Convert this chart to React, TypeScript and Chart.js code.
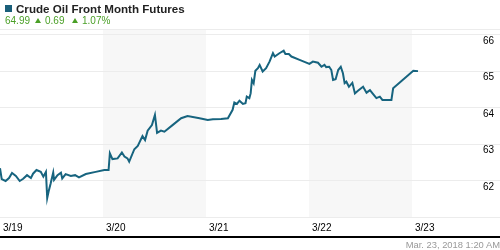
import React, { useEffect, useRef } from "react";
import { Chart, registerables } from "chart.js";

Chart.register(...registerables);

// Hours since 3/19 00:00
const HOURS = [
  0.0, 0.4, 1.3, 2.1, 2.8, 3.7, 4.6, 5.4, 6.3, 7.2, 7.7, 8.5, 9.5, 10.1, 10.7, 11.0, 11.4, 11.8,
  12.4, 12.6, 13.4, 14.2, 14.5, 15.3, 16.5, 17.5, 18.4, 20.0, 22.3, 24.3, 25.3, 25.6, 26.2, 27.4,
  28.4, 29.0, 29.7, 30.1, 31.3, 32.1, 33.2, 33.8, 34.4, 35.4, 36.1, 36.6, 37.5, 38.3, 40.2, 42.2,
  43.7, 46.5, 48.4, 49.6, 51.5, 53.1, 54.2, 54.6, 55.2, 55.8, 56.6, 57.2, 57.5, 58.1, 58.4, 58.7,
  59.1, 59.5, 60.1, 60.5, 61.2, 62.0, 62.8, 63.6, 64.0, 65.1, 66.1, 66.5, 67.3, 67.9, 69.8, 72.1,
  72.9, 74.1, 74.9, 75.6, 76.0, 76.7, 77.2, 77.6, 78.2, 78.8, 79.4, 79.9, 80.3, 80.7, 81.3, 82.1,
  82.7, 83.4, 84.6, 85.4, 86.2, 86.8, 87.7, 88.5, 89.1, 91.2, 91.6, 92.0, 96.3, 97.4,
];
const PRICES = [
  62.35, 62.05, 62.0, 62.08, 62.22, 62.14, 62.0, 62.06, 62.16, 62.08, 62.2, 62.3, 62.25, 62.12,
  62.25, 61.53, 61.75, 61.93, 62.23, 62.03, 62.16, 62.23, 62.07, 62.19, 62.14, 62.16, 62.1, 62.19,
  62.25, 62.3, 62.3, 62.76, 62.6, 62.62, 62.78, 62.67, 62.62, 62.53, 62.87, 62.96, 63.23, 63.12,
  63.38, 63.53, 63.81, 63.32, 63.38, 63.35, 63.53, 63.72, 63.78, 63.72, 63.67, 63.69, 63.7, 63.72,
  63.95, 64.15, 64.11, 64.2, 64.11, 64.13, 64.31, 64.27, 64.4, 64.77, 64.68, 65.02, 65.09, 65.18,
  65.0, 65.09, 65.27, 65.5, 65.41, 65.5, 65.57, 65.48, 65.48, 65.41, 65.32, 65.21, 65.27, 65.24,
  65.13, 65.18, 65.12, 65.13, 65.04, 64.77, 64.79, 65.04, 65.13, 64.95, 64.68, 64.72, 64.58, 64.69,
  64.4, 64.47, 64.58, 64.42, 64.49, 64.4, 64.27, 64.31, 64.22, 64.22, 64.54, 64.58, 65.02, 65.01,
];
const DAY_LABELS = ["3/19", "3/20", "3/21", "3/22", "3/23"];
const SHADED_DAYS = [1, 3];
const Y_TICKS = [62, 63, 64, 65, 66];

const X_MIN = 0;
const X_MAX = 116.5;
const Y_MIN = 61;
const Y_MAX = 66.164;

const FONT = "'Liberation Sans', Arial, sans-serif";
const LINE_COLOR = "#17647f";
const GREEN = "#4a9f26";

const bandPlugin = {
  id: "dayBands",
  beforeDraw(chart: any) {
    const { ctx, chartArea, scales } = chart;
    const x = scales.x;
    ctx.save();
    ctx.fillStyle = "#f7f7f7";
    for (const d of SHADED_DAYS) {
      const x0 = x.getPixelForValue(d * 24);
      const x1 = x.getPixelForValue((d + 1) * 24);
      ctx.fillRect(x0, chartArea.top, x1 - x0, chartArea.bottom - chartArea.top);
    }
    ctx.restore();
  },
};

function PriceChart() {
  const ref = useRef<HTMLCanvasElement | null>(null);
  useEffect(() => {
    if (!ref.current) return;
    const chart = new Chart(ref.current, {
      type: "line",
      data: {
        datasets: [
          {
            data: HOURS.map((h, i) => ({ x: h, y: PRICES[i] })),
            borderColor: LINE_COLOR,
            borderWidth: 2,
            pointRadius: 0,
            tension: 0,
            fill: false,
          },
        ],
      },
      options: {
        animation: false,
        responsive: false,
        events: [],
        layout: { padding: { top: 29, bottom: 0, left: 0, right: 0 } },
        plugins: { legend: { display: false }, tooltip: { enabled: false } },
        scales: {
          x: {
            type: "linear",
            min: X_MIN,
            max: X_MAX,
            grid: { display: false, drawTicks: false },
            border: { display: false },
            ticks: {
              stepSize: 24,
              autoSkip: false,
              maxRotation: 0,
              includeBounds: false,
              align: "start",
              labelOffset: 3,
              padding: 5,
              color: "#000",
              font: { size: 10, family: FONT },
              callback: (v: any) => {
                const idx = Number(v) / 24;
                return Number.isInteger(idx) && DAY_LABELS[idx] ? DAY_LABELS[idx] : "";
              },
            },
            afterFit: (s: any) => {
              s.height = 32.5;
              s.paddingLeft = 0;
              s.paddingRight = 0;
            },
          },
          y: {
            position: "right",
            min: Y_MIN,
            max: Y_MAX,
            grid: { color: "#ececec", drawTicks: false, lineWidth: 1 },
            border: { display: false },
            afterBuildTicks: (s: any) => {
              s.ticks = [Y_MIN, ...Y_TICKS, Y_MAX].map((v) => ({ value: v }));
            },
            ticks: {
              mirror: true,
              padding: -6,
              labelOffset: 6,
              color: "#000",
              font: { size: 10, family: FONT },
              callback: (v: any) => (Y_TICKS.includes(Number(v)) ? String(v) : ""),
            },
            afterFit: (s: any) => {
              s.width = 0;
              s.paddingTop = 0;
              s.paddingBottom = 0;
            },
          },
        },
      } as any,
      plugins: [bandPlugin],
    });
    return () => chart.destroy();
  }, []);
  return (
    <canvas
      ref={ref}
      width={500}
      height={250}
      style={{ position: "absolute", left: 0, top: 0, width: 500, height: 250 }}
    />
  );
}

const triStyle = (left: number): React.CSSProperties => ({
  position: "absolute",
  left,
  top: 18,
  width: 0,
  height: 0,
  borderLeft: "3.5px solid transparent",
  borderRight: "3.5px solid transparent",
  borderBottom: `5px solid ${GREEN}`,
});

const numStyle = (left: number): React.CSSProperties => ({
  position: "absolute",
  left,
  top: 15,
  fontSize: 10,
  color: GREEN,
  lineHeight: "12px",
  whiteSpace: "nowrap",
});

export default function App() {
  return (
    <div
      style={{
        position: "absolute",
        left: 0,
        top: 0,
        width: 500,
        height: 250,
        background: "#fff",
        overflow: "hidden",
        fontFamily: FONT,
      }}
    >
      <PriceChart />
      <div
        style={{ position: "absolute", left: 5, top: 5, width: 7, height: 7, background: "#1a5f7a" }}
      />
      <div
        style={{
          position: "absolute",
          left: 16,
          top: 1,
          fontSize: 11.6,
          fontWeight: "bold",
          color: "#222",
          lineHeight: "15px",
          whiteSpace: "nowrap",
        }}
      >
        Crude Oil Front Month Futures
      </div>
      <div style={numStyle(5)}>64.99</div>
      <div style={triStyle(35)} />
      <div style={numStyle(45)}>0.69</div>
      <div style={triStyle(72)} />
      <div style={numStyle(82)}>1.07%</div>
      <div
        style={{ position: "absolute", left: 0, top: 236, width: 500, height: 2, background: "#000" }}
      />
      <div
        style={{
          position: "absolute",
          right: 0,
          top: 239,
          fontSize: 9.4,
          color: "#999",
          lineHeight: "11px",
          whiteSpace: "nowrap",
        }}
      >
        Mar. 23, 2018 1:20 AM
      </div>
    </div>
  );
}
